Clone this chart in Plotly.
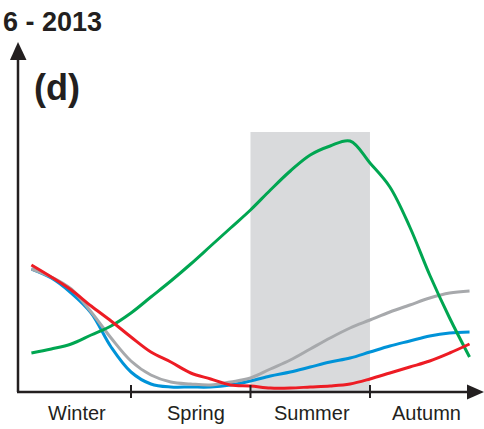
import plotly.graph_objects as go

# Month positions (half-month steps) along the seasonal axis: 0 = start of winter, 12 = end of autumn
months = [0.5, 1.0, 1.5, 2.0, 2.5, 3.0, 3.5, 4.0, 4.5, 5.0, 5.5, 6.0,
          6.5, 7.0, 7.5, 8.0, 8.5, 9.0, 9.5, 10.0, 10.5, 11.0, 11.5]

green = [39, 43, 48, 57, 66, 79, 95, 111, 128, 146, 164, 182,
         202, 221, 237, 246, 251, 229, 205, 165, 117, 74, 35]
gray = [123, 115, 103, 80, 54, 31, 17, 10, 8, 7, 10, 14,
        23, 32, 43, 54, 64, 72, 80, 87, 94, 99, 101]
blue = [123, 114, 99, 79, 45, 20, 8, 5, 5, 5, 7, 11,
        16, 20, 25, 30, 34, 40, 46, 51, 56, 59, 60]
red = [127, 115, 102, 86, 71, 55, 40, 30, 19, 13, 7, 6,
       4, 4, 5, 6, 8, 13, 19, 25, 31, 39, 48]

seasons = ["Winter", "Spring", "Summer", "Autumn"]
season_bounds = [3, 6, 9]
summer_span = (6, 9)
shade_top = 260

W, H = 484, 429
AX = "#231f20"
FONT = "Liberation Sans, Arial"

def px(x):
    return x / W

def py(y):
    return 1 - y / H

fig = go.Figure()

colors = {"gray": "#a7a9ac", "blue": "#0093d8", "green": "#00a651", "red": "#ed1c24"}
values = {"gray": gray, "blue": blue, "green": green, "red": red}
for name in ["blue", "gray", "green", "red"]:
    fig.add_trace(go.Scatter(
        x=months, y=values[name], mode="lines", name=name,
        line=dict(color=colors[name], width=3, shape="spline", smoothing=1.0),
        hoverinfo="skip", showlegend=False))

shapes = []
# summer shading
shapes.append(dict(type="rect", xref="x", yref="y", x0=summer_span[0], x1=summer_span[1],
                   y0=0, y1=shade_top, fillcolor="#d9dadc", line=dict(width=0), layer="below"))
# y axis with arrow
shapes.append(dict(type="line", xref="paper", yref="paper", x0=px(18), x1=px(18),
                   y0=py(392), y1=py(56), line=dict(color=AX, width=2.5)))
shapes.append(dict(type="path", xref="paper", yref="paper",
                   path=f"M {px(10)},{py(60)} L {px(18)},{py(42)} L {px(26.5)},{py(60)} Z",
                   fillcolor=AX, line=dict(width=0)))
# x axis with arrow
shapes.append(dict(type="line", xref="paper", yref="paper", x0=px(17), x1=px(472),
                   y0=py(392), y1=py(392), line=dict(color=AX, width=2.5)))
shapes.append(dict(type="path", xref="paper", yref="paper",
                   path=f"M {px(467)},{py(384.5)} L {px(484)},{py(392)} L {px(467)},{py(399.5)} Z",
                   fillcolor=AX, line=dict(width=0)))
# season boundary ticks
for b in season_bounds:
    shapes.append(dict(type="line", xref="x", yref="paper", x0=b, x1=b,
                       y0=py(385), y1=py(398), line=dict(color=AX, width=2)))

annotations = []
label_x = [1.65, 4.63, 7.55, 10.43]
for s, lx in zip(seasons, label_x):
    annotations.append(dict(x=lx, y=py(413), xref="x", yref="paper", text=s,
                            showarrow=False, xanchor="center", yanchor="middle",
                            font=dict(family=FONT, size=20, color=AX)))
annotations.append(dict(x=px(1), y=py(22), xref="paper", yref="paper", text="<b>6 - 2013</b>",
                        showarrow=False, xanchor="left", yanchor="middle",
                        font=dict(family=FONT, size=27, color=AX)))
annotations.append(dict(x=px(32), y=py(87), xref="paper", yref="paper", text="<b>(d)</b>",
                        showarrow=False, xanchor="left", yanchor="middle",
                        font=dict(family=FONT, size=36, color=AX)))

fig.update_layout(
    width=W, height=H, margin=dict(l=0, r=0, t=0, b=0),
    paper_bgcolor="white", plot_bgcolor="white",
    xaxis=dict(range=[-0.2887, 11.863], visible=False, fixedrange=True),
    yaxis=dict(range=[-37, 392], visible=False, fixedrange=True),
    shapes=shapes, annotations=annotations, showlegend=False,
)

fig.write_html("out.html")
